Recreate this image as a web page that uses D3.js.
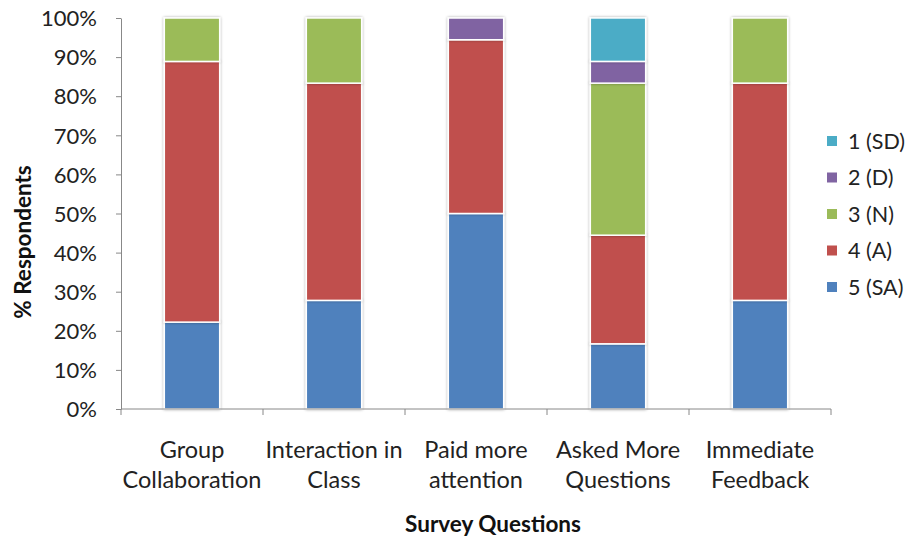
<!DOCTYPE html>
<html><head><meta charset="utf-8">
<script src="https://cdn.jsdelivr.net/npm/d3@7"></script>
<style>body{margin:0;background:#fff}svg{display:block}text{font-family:Lato,"Open Sans",sans-serif}</style>
</head><body><svg id="c" width="909" height="538"></svg>
<script>
const categories = [["Group","Collaboration"],["Interaction in","Class"],["Paid more","attention"],["Asked More","Questions"],["Immediate","Feedback"]];
const seriesNames = ["5 (SA)","4 (A)","3 (N)","2 (D)","1 (SD)"];
const sa = [22.22,27.78,50.00,16.67,27.78];
const ag = [66.67,55.56,44.44,27.78,55.56];
const ne = [11.11,16.67,0,38.89,16.67];
const di = [0,0,5.56,5.56,0];
const sd = [0,0,0,11.11,0];
const yTicks = [0,10,20,30,40,50,60,70,80,90,100];
const colors = {"5 (SA)":"#4F81BD","4 (A)":"#C0504D","3 (N)":"#9BBB59","2 (D)":"#8064A2","1 (SD)":"#4BACC6"};

const rows = categories.map((c,i)=>({key:i,"5 (SA)":sa[i],"4 (A)":ag[i],"3 (N)":ne[i],"2 (D)":di[i],"1 (SD)":sd[i]}));
const stack = d3.stack().keys(seriesNames)(rows);

const svg = d3.select("#c");
const L=121,R=831,T=18,B=409;
const x = d3.scaleBand().domain(d3.range(categories.length)).range([L,R]).paddingInner(0.61).paddingOuter(0.305);
const y = d3.scaleLinear().domain([0,100]).range([B,T]);

const defs = svg.append("defs");
const f = defs.append("filter").attr("id","sh").attr("x","-20%").attr("y","-20%").attr("width","140%").attr("height","140%");
f.append("feGaussianBlur").attr("in","SourceAlpha").attr("stdDeviation",1.6).attr("result","b");
f.append("feComponentTransfer").attr("in","b").attr("result","b2").append("feFuncA").attr("type","linear").attr("slope",0.35);
const m = f.append("feMerge"); m.append("feMergeNode").attr("in","b2"); m.append("feMergeNode").attr("in","SourceGraphic");

// bars
const g = svg.append("g");
stack.forEach(s=>{
  g.append("g").selectAll("rect").data(s.filter(d=>d[1]-d[0]>0)).join("rect")
   .attr("x",d=>x(d.data.key)).attr("width",x.bandwidth())
   .attr("y",d=>y(d[1])).attr("height",d=>y(d[0])-y(d[1]))
   .attr("fill",colors[s.key]).attr("stroke","#fff").attr("stroke-width",1.5)
   .attr("filter","url(#sh)");
});

// y axis
const ya = svg.append("g").attr("transform",`translate(${L},0)`)
  .call(d3.axisLeft(y).tickValues(yTicks).tickFormat(d=>d+"%").tickSize(5).tickSizeOuter(0));
ya.select(".domain").attr("stroke","#888");
ya.selectAll(".tick line").attr("stroke","#888");
ya.selectAll("text").attr("font-size",22).attr("fill","#222").attr("x",-24).attr("dy","0.35em");

// x axis
const xa = svg.append("g").attr("transform",`translate(0,${B})`);
xa.append("line").attr("x1",L).attr("x2",R).attr("stroke","#888");
const bounds = d3.range(categories.length+1).map(i=>L+i*x.step());
xa.selectAll("line.t").data(bounds).join("line").attr("class","t")
  .attr("x1",d=>d).attr("x2",d=>d).attr("y1",0).attr("y2",6).attr("stroke","#888");
categories.forEach((c,i)=>{
  const t = svg.append("text").attr("text-anchor","middle").attr("font-size",23.5).attr("fill","#222");
  c.forEach((ln,j)=>t.append("tspan").attr("x",x(i)+x.bandwidth()/2).attr("y",458+j*30).text(ln));
});

// titles
svg.append("text").attr("x",493).attr("y",532).attr("text-anchor","middle").attr("font-size",22.5).attr("font-weight","bold").attr("fill","#111").text("Survey Questions");
svg.append("text").attr("transform","translate(31,242) rotate(-90)").attr("text-anchor","middle").attr("font-size",22.5).attr("font-weight","bold").attr("fill","#111").text("% Respondents");

// legend
const leg = svg.append("g");
const legOrder = seriesNames.slice().reverse();
legOrder.forEach((k,i)=>{
  const yy = 141 + i*36.5;
  leg.append("rect").attr("x",827).attr("y",yy-5).attr("width",10).attr("height",10).attr("fill",colors[k]);
  leg.append("text").attr("x",848).attr("y",yy).attr("dy","0.35em").attr("font-size",21.5).attr("fill","#222").text(k);
});
</script></body></html>
